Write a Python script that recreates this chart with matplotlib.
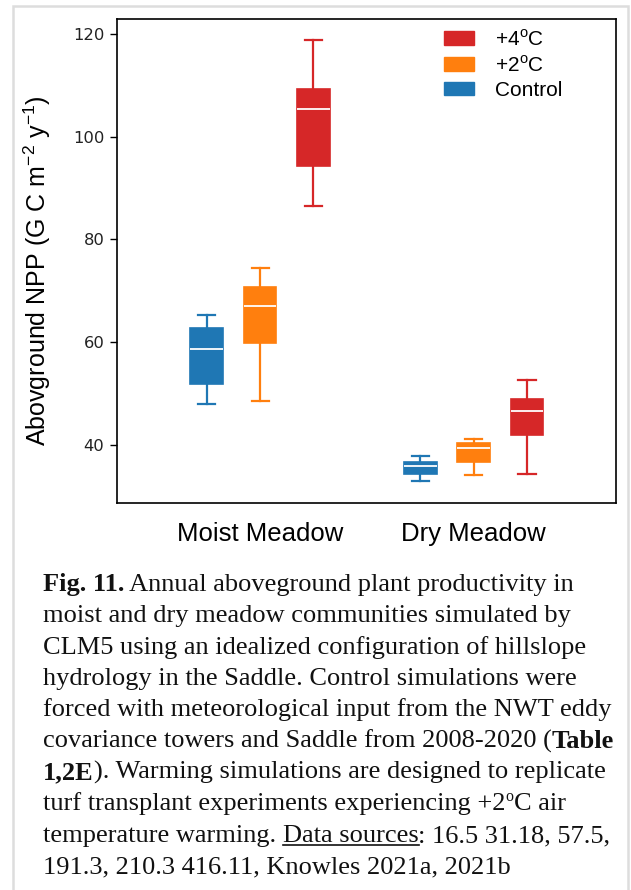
import matplotlib
matplotlib.use("Agg")
import matplotlib.pyplot as plt
from matplotlib.patches import Patch, Rectangle
from matplotlib.lines import Line2D

# ---- data: aboveground NPP (g C m-2 y-1) box summaries ----
communities = ["Moist Meadow", "Dry Meadow"]
treatments = ["Control", "+2oC", "+4oC"]
colors = ["#1f77b4", "#ff7f0e", "#d62728"]

# whisker low, Q1, median, Q3, whisker high for each community
control_stats = [[47.9, 51.8, 58.6, 62.8, 65.2], [32.9, 34.3, 35.8, 36.6, 37.8]]
plus2_stats = [[48.5, 59.8, 67.1, 70.8, 74.5], [34.0, 36.6, 39.3, 40.3, 41.1]]
plus4_stats = [[86.6, 94.3, 105.4, 109.3, 119.0], [34.2, 41.8, 46.6, 48.8, 52.5]]

yticks = [40, 60, 80, 100, 120]

W, H = 631, 890
fig = plt.figure(figsize=(W / 100, H / 100), dpi=100)
fig.patch.set_facecolor("white")

ax = fig.add_axes([117 / W, 1 - 503 / H, 499 / W, 484 / H])

all_stats = [control_stats, plus2_stats, plus4_stats]
offsets = [-0.25, 0.0, 0.25]
for stats, color, off in zip(all_stats, colors, offsets):
    boxes = []
    for s in stats:
        lo, q1, med, q3, hi = s
        boxes.append(dict(whislo=lo, q1=q1, med=med, q3=q3, whishi=hi, fliers=[]))
    ax.bxp(boxes, positions=[i + off for i in range(len(communities))],
           widths=0.153, capwidths=0.08, patch_artist=True, showfliers=False,
           boxprops=dict(facecolor=color, edgecolor=color, linewidth=1.2),
           medianprops=dict(color="white", linewidth=1.3),
           whiskerprops=dict(color=color, linewidth=1.6),
           capprops=dict(color=color, linewidth=1.6),
           manage_ticks=False)

ax.set_xlim(-0.67, 1.667)
ax.set_ylim(28.6, 123.0)
ax.set_xticks(range(len(communities)))
ax.set_xticklabels(communities, fontsize=18.5, family="Liberation Sans")
ax.tick_params(axis="x", length=0, pad=14)
ax.set_yticks(yticks)
ax.set_yticklabels([str(v) for v in yticks], fontsize=11.8, family="DejaVu Sans", color="#222222")
ax.tick_params(axis="y", length=5, width=1.0, pad=4)
for sp in ax.spines.values():
    sp.set_linewidth(1.2)
    sp.set_color("black")

ax.set_ylabel(r"Abovground NPP (G C m$^{\mathregular{-2}}$ y$^{\mathregular{-1}}$)",
              fontsize=18, family="Liberation Sans")
ax.yaxis.set_label_coords(-0.128, 0.481)

legend_labels = ["+4$^{\\mathregular{o}}$C", "+2$^{\\mathregular{o}}$C", "Control"]
handles = [Patch(facecolor=c, edgecolor=c) for c in colors[::-1]]
leg = fig.legend(handles, legend_labels, loc="upper left",
                 bbox_to_anchor=(444 / W, 1 - 29 / H), frameon=False,
                 prop=dict(family="Liberation Sans", size=15),
                 handlelength=1.45, handleheight=0.65, handletextpad=1.0,
                 labelspacing=0.25, borderpad=0, borderaxespad=0)

# ---- caption ----
cap_size = 19
cap_family = "Liberation Serif"
x0 = 43
baselines = [591, 622, 654, 685, 716, 748, 779, 810, 842, 873]
caption_lines = [
    [("Fig. 11.", "bold"), (" Annual aboveground plant productivity in", "normal")],
    [("moist and dry meadow communities simulated by", "normal")],
    [("CLM5 using an idealized configuration of hillslope", "normal")],
    [("hydrology in the Saddle. Control simulations were", "normal")],
    [("forced with meteorological input from the NWT eddy", "normal")],
    [("covariance towers and Saddle from 2008-2020 (", "normal"), ("Table", "bold")],
    [("1,2E", "bold"), ("). Warming simulations are designed to replicate", "normal")],
    [("turf transplant experiments experiencing +2", "normal"), ("o", "sup"), ("C air", "normal")],
    [("temperature warming. ", "normal"), ("Data sources", "underline"),
     (": 16.5 31.18, 57.5,", "normal")],
    [("191.3, 210.3 416.11, Knowles 2021a, 2021b", "normal")],
]

renderer = fig.canvas.get_renderer()
for line, yb in zip(caption_lines, baselines):
    x = x0
    for txt, style in line:
        weight = "bold" if style == "bold" else "normal"
        size = cap_size * 0.6 if style == "sup" else cap_size
        y = yb - 9 if style == "sup" else yb
        t = fig.text(x / W, 1 - y / H, txt, fontsize=size, family=cap_family,
                     weight=weight, ha="left", va="baseline", color="#111111")
        bb = t.get_window_extent(renderer=renderer)
        if style == "underline":
            fig.add_artist(Line2D([x / W, (x + bb.width) / W],
                                  [1 - (yb + 3) / H, 1 - (yb + 3) / H],
                                  color="#111111", linewidth=1.2))
        x += bb.width

# light panel border around the figure
fig.add_artist(Rectangle((13 / W, -0.01), (628 - 13) / W, (1 - 6 / H) + 0.01,
                         transform=fig.transFigure, fill=False,
                         edgecolor="#dddddd", linewidth=1.8))

fig.savefig("out.png", dpi=100, facecolor="white")
